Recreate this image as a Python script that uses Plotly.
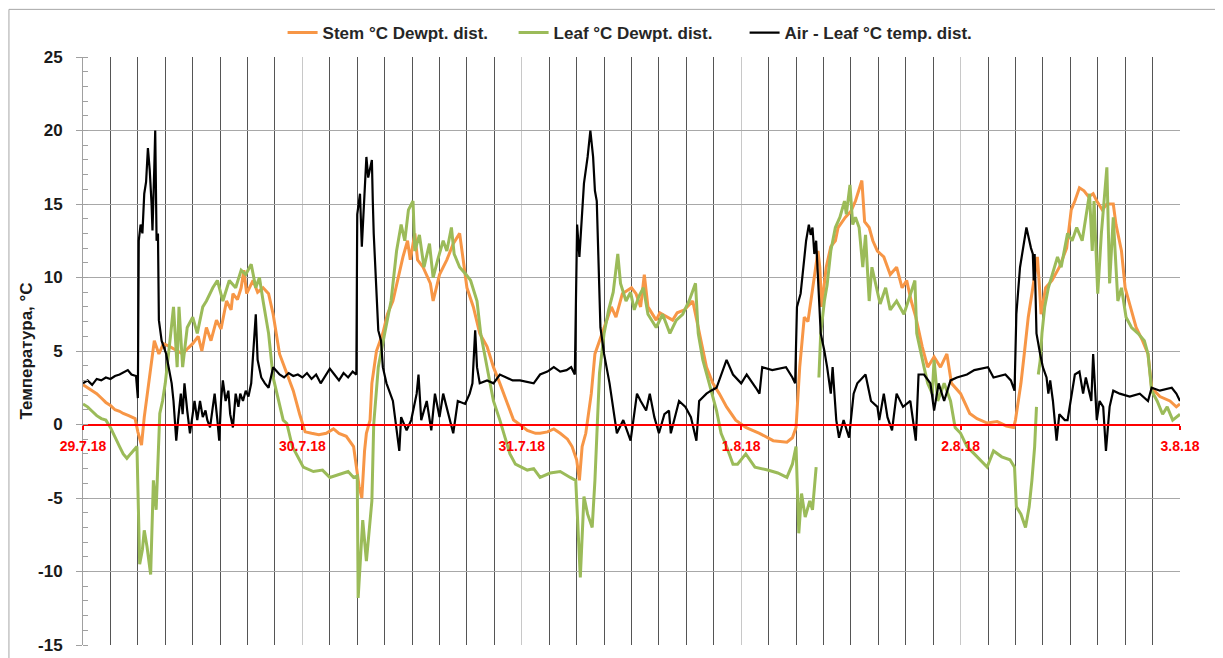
import pandas as pd
import plotly.graph_objects as go

# ── Data (hours since 29.7.18 00:00, values in °C) ─────────────────────────────
START = pd.Timestamp("2018-07-29 00:00")

stem_hours = [
    0, 0.5, 1, 1.5, 2, 2.5, 3, 3.5, 4, 4.4, 5, 5.7, 6, 6.4, 6.7, 7.1, 7.4, 7.8, 8.3, 8.8,
    9.5, 10.3, 10.9, 11.5, 12, 12.6, 13, 13.5, 14, 14.6, 15.1, 15.7, 16.2, 16.4, 16.9, 17.3,
    17.6, 17.9, 18.6, 19.1, 19.7, 20.3, 20.8, 21.5, 22.3, 23, 23.7, 24.3, 25, 25.8, 26.6,
    27.4, 28, 28.8, 29.6, 30, 30.2, 30.5, 30.8, 31, 31.4, 31.6, 32.1, 32.8, 33.3, 33.9, 34.4,
    35, 35.5, 35.8, 36.3, 36.6, 37.2, 38, 38.3, 39, 39.8, 40.5, 41.2, 41.6, 42, 42.7, 43.4,
    44.2, 44.9, 45.6, 46.3, 47.1, 48, 48.6, 49.5, 50, 50.8, 51.5, 52.2, 53, 53.5, 54, 54.3,
    54.6, 55, 55.3, 55.6, 56, 56.8, 57.8, 58.3, 59, 60, 60.5, 61, 61.4, 61.8, 62.7, 63.1,
    63.9, 64.5, 65, 65.8, 66.7, 67.4, 68.2, 68.9, 69.6, 70.4, 71.4, 72.5, 74, 75.5, 77,
    77.6, 78, 78.4, 78.9, 79.3, 79.9, 80.4, 80.6, 80.8, 81.3, 81.8, 82.3, 82.6, 83.4, 84,
    84.5, 85.2, 85.5, 86, 86.4, 86.9, 87.6, 88.3, 89, 89.6, 90.1, 90.6, 91.1, 91.8, 92.4,
    93.1, 93.8, 94.5, 95, 96, 97, 97.8, 98.9, 100, 101, 101.8, 102, 102.6, 103, 103.4,
    103.9, 104.4, 104.6, 104.8, 105.3, 106, 106.8, 107.6, 108.1, 108.5, 109, 109.5, 110,
    110.5, 110.9, 111.5, 112, 112.7, 113, 113.6, 114, 114.6, 115.2, 115.9, 116.5, 116.9,
    117.8, 118.9, 119.6, 120,
]
stem_vals = [
    2.7, 2.5, 2.3, 2.1, 1.8, 1.5, 1.3, 1.0, 0.9, 0.75, 0.6, 0.4, -0.5, -1.4, 0.5, 2.3, 4.0, 5.7, 4.8, 5.5,
    5.3, 5.0, 4.8, 5.2, 5.5, 6.0, 5.0, 6.6, 5.7, 7.1, 6.5, 8.4, 7.8, 8.9, 8.5, 9.3,
    10.5, 8.9, 9.8, 9.0, 9.3, 8.9, 7.5, 4.8, 3.4, 2.3, 0.7, -0.5, -0.6, -0.7, -0.6,
    -0.3, -0.6, -0.8, -1.5, -3.3, -4.2, -5.0, -1.8, -0.6, 0.3, 2.8, 5.0, 6.2, 7.5, 8.4, 9.8,
    11.4, 12.5, 11.2, 13.0, 11.2, 10.7, 9.6, 8.4, 10.2, 11.2, 12.3, 13.0, 11.2, 9.3, 8.0, 6.2,
    5.3, 3.9, 2.8, 1.6, 0.3, -0.1, -0.4, -0.6, -0.6, -0.5, -0.3, -0.6, -1.0, -1.5, -2.4, -3.8,
    -1.5, -0.6, 0.75, 2.1, 4.8, 6.2, 8.0, 7.3, 8.9, 9.3, 8.9, 8.0, 10.2, 8.0, 7.1, 7.6,
    7.3, 7.1, 7.6, 7.8, 8.4, 6.2, 3.9, 2.8, 2.1, 1.2, 0.3, -0.2, -0.6, -1.1, -1.2,
    -0.9, -0.2, 3.9, 7.3, 7.0, 9.5, 11.8, 10.7, 8.0, 10.7, 12.1, 12.5, 13.4, 14.1, 14.5,
    15.2, 16.6, 13.8, 13.4, 12.5, 11.8, 11.4, 10.2, 10.7, 9.3, 9.8, 8.4, 7.3, 5.3, 3.9,
    4.6, 3.9, 4.8, 2.8, 2.1, 0.75, 0.4, 0.1, 0.2, -0.1, -0.2, 0.3, 2.8, 5.0, 7.3,
    9.3, 11.4, 9.6, 7.5, 9.3, 9.8, 10.7, 12.0, 14.6, 15.2, 16.1, 15.9, 15.5,
    15.7, 15.2, 14.6, 15.0, 15.0, 13.6, 11.8, 9.3, 8.0, 6.6, 5.7, 4.8, 2.5,
    1.9, 1.6, 1.2, 1.4,
]

leaf_hours = [
    0, 0.5, 1, 1.5, 2, 2.5, 3, 3.5, 4, 4.4, 4.8, 5.2, 5.5, 5.9, 6.2, 6.5, 6.7, 7, 7.4, 7.7,
    8, 8.4, 8.7, 9, 9.6, 9.9, 10.3, 10.5, 10.9, 11.4, 12, 12.5, 13.1, 13.5, 14.2, 14.7, 15.3,
    16, 16.7, 17.3, 17.8, 18.4, 18.9, 19.3, 19.7, 20.3, 20.8, 21.4, 21.9, 22.3, 22.9, 24.1,
    25.2, 26.2, 27, 28, 29, 29.6, 30, 30.1, 30.6, 31, 31.6, 31.8, 32.3, 33, 33.7, 34.3, 34.8,
    35.2, 35.6, 36.1, 36.3, 36.8, 37.3, 37.9, 38.3, 38.8, 39.4, 39.8, 40.3, 40.6, 41.2, 41.9,
    42.4, 43.1, 43.5, 44.2, 44.9, 45.6, 46, 46.7, 47.3, 48.6, 49.3, 50, 51.1, 52.2, 53.3,
    53.9, 54.4, 54.8, 55.2, 55.7, 56, 56.3, 56.5, 57, 57.5, 58, 58.5, 58.8, 59.4, 59.9,
    60.3, 60.8, 61.3, 61.8, 62.7, 63.4, 64.2, 64.9, 65.6, 66.3, 67, 67.3, 67.8, 68.5, 69.3,
    69.8, 70.4, 71.1, 71.6, 72.5, 73.5, 74.9, 76, 77, 77.6, 78, 78.3, 78.6, 79, 79.5, 79.8,
    80.2, 80.35, 80.5, 80.7, 81.1, 81.4, 81.8, 82.3, 82.8, 83.3, 83.5, 83.9, 84.2, 84.5,
    84.9, 85.3, 85.6, 86, 86.3, 86.7, 87.2, 87.8, 88.3, 89, 89.8, 91, 91.2, 92, 92.4, 92.9,
    93.1, 93.5, 94.2, 94.9, 95.4, 96, 96.7, 97.5, 98.9, 99.6, 100.5, 101.4, 101.9, 102.1,
    102.6, 103.1, 103.5, 103.8, 104.1, 104.3, 104.4, 104.5, 104.7, 104.9, 105.2, 105.6,
    106, 106.6, 107, 107.7, 108.2, 108.7, 109.3, 110.1, 110.4, 110.6, 111, 111.4, 112,
    112.3, 112.7, 113.2, 113.6, 114.1, 114.7, 115.4, 116.1, 116.5, 116.9, 117.5, 118.1,
    118.6, 119.2, 120,
]
leaf_vals = [
    1.4, 1.2, 0.9, 0.6, 0.4, 0.3, -0.2, -0.8, -1.5, -2.0, -2.3, -2.0, -1.75, -1.5, -9.5, -8.5, -7.2, -8.3, -10.2, -3.8,
    -5.8, 0.75, 1.6, 2.8, 6.2, 8.0, 3.9, 8.0, 3.9, 6.6, 7.3, 6.2, 8.0, 8.4, 9.3, 9.8, 8.4,
    9.8, 9.3, 10.5, 10.2, 10.9, 9.3, 10.0, 8.4, 6.2, 3.2, 1.6, 0.3, 0.07, -1.5, -2.9,
    -3.2, -3.1, -3.6, -3.4, -3.2, -3.6, -3.5, -11.8, -6.5, -9.3, -5.2, 0.0, 3.9, 6.2, 8.4, 11.8, 13.6,
    12.5, 14.6, 15.2, 11.8, 12.9, 10.7, 12.3, 10.0, 11.2, 12.5, 11.8, 13.4, 11.6, 10.7, 10.2,
    9.8, 8.4, 6.2, 3.9, 1.6, 0.3, -0.6, -2.0, -2.7, -3.1, -3.0, -3.6, -3.3, -3.2, -3.6,
    -3.8, -10.4, -4.9, -6.1, -7.0, -3.8, 0.75, 3.5, 6.2, 7.8, 9.0, 11.6, 9.6, 8.4, 9.0,
    7.8, 8.7, 9.3, 7.5, 6.6, 7.5, 6.2, 7.1, 7.5, 8.4, 9.6, 6.2, 4.4, 2.8, 0.95,
    -0.6, -1.5, -2.7, -2.7, -2.0, -2.9, -3.1, -3.3, -3.6, -2.7, -1.5, -7.4, -4.7, -6.3, -5.2, -5.8,
    -2.9, None, 3.2, 6.2, 8.4, 9.5, 11.8, 13.4, 14.1, 15.2, 14.3, 16.3, 13.6, 14.1,
    13.4, 10.7, 12.9, 8.4, 10.7, 9.5, 8.2, 9.3, 7.8, 8.4, 7.5, 9.8, 6.2, 3.9, 2.8, 2.1,
    4.4, 1.6, 2.8, 1.6, -0.2, -0.6, -1.5, -2.0, -2.9, -1.8, -2.2, -2.4, -2.9, -5.6,
    -6.1, -7.0, -5.6, -3.8, -1.5, 1.2, None, 3.4, 4.3, 6.2, 8.0, 9.3,
    10.2, 11.4, 10.7, 13.0, 12.5, 13.4, 12.5, 15.7, 11.8, 15.2, 8.9, 13.0, 17.5,
    9.6, 14.1, 8.4, 9.3, 7.3, 6.6, 6.2, 5.7, 4.8, 2.3, 1.6, 0.7,
    1.2, 0.3, 0.7,
]

air_hours = [
    0, 0.5, 1, 1.5, 2, 2.5, 3, 3.5, 4, 4.5, 4.9, 5.3, 5.8, 6, 6.1, 6.3, 6.5, 6.7, 6.9, 7.1,
    7.3, 7.5, 7.6, 7.8, 7.9, 8.05, 8.2, 8.3, 8.6, 9.1, 9.4, 9.7, 9.9, 10.2, 10.4, 10.7, 10.9,
    11.1, 11.4, 11.7, 12, 12.2, 12.5, 12.8, 13.1, 13.4, 13.6, 13.9, 14.2, 14.4, 14.7, 14.9,
    15.1, 15.3, 15.6, 15.9, 16.1, 16.4, 16.7, 17, 17.2, 17.5, 17.8, 18.1, 18.4, 18.6, 18.9,
    19.1, 19.5, 19.9, 20.3, 20.8, 21.2, 21.5,
    22, 22.5, 23, 23.5, 24, 24.5, 25, 25.5, 26, 26.5, 27, 27.5, 28, 28.5, 29, 29.5, 29.9,
    30, 30.3, 30.5, 31, 31.2, 31.6, 31.7, 31.8, 32.3, 32.6, 32.8, 33.2, 33.9, 34.3, 34.6,
    34.8, 35.4, 35.9, 36.5, 36.7, 37, 37.6, 38.1, 38.5, 39, 39.4, 40.1, 40.5, 41, 41.8,
    42.3, 42.6, 42.9, 43.1, 43.4, 44.2, 44.9, 45.6, 46.3, 47, 47.8, 48.5, 49.3, 50, 50.8,
    51.5, 52.2, 52.9, 53.4, 53.8, 54.05, 54.3, 54.8, 55.2, 55.5, 55.8, 56, 56.2, 56.6, 57,
    57.6, 58.4, 59.1, 59.9, 60.6, 61, 61.6, 62, 62.5, 63, 63.6, 64.1, 64.3, 65.2, 65.9,
    66.5, 67.1, 67.4, 68.2, 68.7, 69.3, 70.4, 71.1, 72, 72.6, 73.6, 74, 74.3, 75.4, 76.9,
    77.6, 77.9, 78.1, 78.5, 78.8, 79.1, 79.4, 79.6, 79.8, 80, 80.2, 80.5, 80.7, 81.1, 81.4,
    81.8, 82, 82.4, 82.7, 83.2, 83.8, 84.3, 84.7, 85.6, 86.2, 86.9, 87.1, 87.6, 88, 88.5,
    89, 89.7, 90.5, 91.1, 91.4, 92, 92.7, 93.1, 93.6, 94.2, 94.9, 95.6, 96.7, 97.5, 99,
    99.6, 100.9, 101.5, 101.9, 102.1, 102.5, 103.2, 103.5, 103.7, 103.9, 104, 104.1, 104.3,
    104.7, 105, 105.4, 105.6, 105.8, 106.1, 106.5, 106.8, 107.4, 107.7, 108.5, 109, 109.4,
    109.7, 110.3, 110.5, 110.9, 111.2, 111.6, 111.9, 112.3, 112.7, 113.4, 114.5, 115.6,
    116.5, 116.9, 117.8, 119.1, 119.6, 120,
]
air_vals = [
    2.8, 3.0, 2.7, 3.1, 3.0, 3.2, 3.1, 3.3, 3.4, 3.6, 3.7, 3.4, 3.3, 1.8, 12.5, 13.6, 13.0, 15.7, 16.5, 18.8,
    17.3, 15.0, 13.2, 17.5, 20.0, 12.5, 13.0, 7.1, 5.7, 4.8, 3.9, 2.8, 1.6, -1.1, 0.3, 2.1, 0.7,
    2.8, 0.95, -0.6, 0.7, 1.6, 0.3, 1.6, 0.5, 0.95, 0.3, -0.2, 1.2, 2.1, 0.3, -1.1,
    1.6, 3.0, 1.6, 2.3, 0.7, -0.2, 2.1, 1.2, 2.1, 1.6, 2.3, 1.9, 2.8, 4.8, 7.5,
    4.4, 3.2, 2.8, 2.5, 3.9, 3.6, 3.4,
    3.2, 3.5, 3.3, 3.4, 3.2, 3.5, 3.1, 3.4, 2.8, 3.3, 3.8, 3.4, 3.0, 3.5, 3.2, 3.6, 3.4,
    14.3, 15.7, 12.1, 18.2, 16.8, 18.0, 15.2, 13.0, 6.4, 5.7, 3.9, 2.8, 1.6, -0.2, -1.8,
    0.5, -0.4, 0.3, 2.1, 3.4, 0.3, 1.6, -0.4, 2.1, 0.5, 2.1, 0.3, -0.6, 1.6, 1.4,
    2.1, 2.8, 6.4, 3.9, 2.8, 3.0, 2.8, 3.4, 3.2, 3.0, 3.0, 2.9, 2.8, 3.4, 3.6,
    3.9, 3.6, 3.7, 3.9, 3.4, 13.6, 11.4, 16.4, 18.2, 20.0, 18.2, 15.9, 15.2, 6.6, 4.8,
    2.8, -0.6, 0.3, -1.1, 2.1, 1.6, 0.95, 2.1, 0.5, -0.6, 0.7, 0.95, -0.6, 1.6, 1.2,
    0.5, -1.1, 1.6, 2.1, 2.3, 2.5, 4.4, 3.4, 2.8, 3.4, 2.5, 2.1, 3.9, 3.7, 3.9,
    3.2, 2.8, 8.0, 8.9, 10.9, 12.5, 13.6, 12.9, 13.4, 11.6, 12.5, 8.4, 6.2, 5.0, 3.9,
    2.1, 3.9, 0.3, -0.9, 0.3, -0.9, 2.1, 2.8, 3.4, 1.6, 1.2, 0.3, 2.1, 0.5, -0.4,
    2.1, 1.2, 1.6, -1.1, 3.4, 3.4, 2.8, 0.95, 2.8, 1.6, 3.0, 3.2, 3.4, 3.7, 3.9,
    3.2, 3.4, 3.0, 2.3, 7.5, 10.7, 13.4, 12.5, 12.0, 11.6, 9.8, 11.6, 6.2,
    4.8, 3.9, 3.2, 2.1, 3.0, 1.6, -1.1, 0.7, 0.3, 0.3, 3.4, 3.6, 2.1,
    3.2, 1.6, 4.8, 0.3, 1.6, 1.2, -1.8, 1.2, 2.3, 2.1, 1.9, 2.1,
    1.6, 2.5, 2.3, 2.5, 2.1, 1.6,
]

y_ticks      = [-15, -10, -5, 0, 5, 10, 15, 20, 25]
y_tick_text  = ["-15", "-10", "-5", "0", "5", "10", "15", "20", "25"]

SERIES = [
    ("Stem °C Dewpt. dist.", stem_hours, stem_vals, "#F79646", 3.0),
    ("Leaf °C Dewpt. dist.", leaf_hours, leaf_vals, "#9BBB59", 3.0),
    ("Air - Leaf °C temp. dist.", air_hours, air_vals, "#000000", 2.2),
]

FONT = "Liberation Sans, Arial, sans-serif"

# page body has an 8px margin, so the figure is a little smaller than the window
W, H = 1215, 650

fig = go.Figure()

for name, hrs, vals, color, width in SERIES:
    fig.add_trace(go.Scatter(
        x    = START + pd.to_timedelta(hrs, unit="h"),
        y    = vals,
        name = name,
        mode = "lines",
        line = dict(color=color, width=width),
        connectgaps = False,
    ))

fig.update_layout(
    width  = W,
    height = H,
    margin = dict(l=75, r=43, t=49, b=13),
    paper_bgcolor = "white",
    plot_bgcolor  = "white",
    font   = dict(family=FONT, color="#000000"),
    showlegend = True,
    legend = dict(
        orientation = "h",
        xref = "container", x = 0.226, xanchor = "left",
        yref = "container", y = 1 - 25 / H, yanchor = "middle",
        font = dict(size=17, color="#262626", family=FONT, weight="bold"),
        itemwidth = 30,
        entrywidth = 186, entrywidthmode = "pixels",
    ),
    shapes = [dict(
        type="rect", xref="paper", yref="paper",
        x0=-0.0675, x1=1.046, y0=-0.045, y1=1.081,
        line=dict(color="#a6a6a6", width=1), layer="below",
    )],
)

fig.update_xaxes(
    type = "date",
    range = [START, START + pd.Timedelta(days=5)],
    anchor = "free", position = 0.375,
    automargin = False,
    showline = True, linecolor = "#FF0000", linewidth = 2,
    ticks = "outside", ticklen = 4, tickcolor = "#FF0000", tickwidth = 2,
    ticklabelstandoff = 5,
    dtick = 86400000, tickformat = "%-d.%-m.%y",
    tickfont = dict(size=14, color="#FF0000", family=FONT, weight="bold"),
    showgrid = True, gridcolor = "#c8c8c8", gridwidth = 1.3,
    minor = dict(dtick=10800000, showgrid=True, gridcolor="#555555", gridwidth=1.4),
    zeroline = False,
)

fig.update_yaxes(
    range = [-15, 25],
    tickvals = y_ticks, ticktext = y_tick_text,
    automargin = False,
    showgrid = True, gridcolor = "#a8a8a8", gridwidth = 1.3,
    zeroline = False,
    showline = True, linecolor = "#a0a0a0", linewidth = 1,
    ticks = "outside", ticklen = 6, tickcolor = "#a0a0a0",
    ticklabelstandoff = 10,
    minor = dict(ticks="inside", ticklen=5, dtick=1, tickcolor="#a0a0a0", showgrid=False),
    tickfont = dict(size=17, color="#1a1a1a", family=FONT, weight="bold"),
    title = dict(text="Температура, °С", standoff=1,
                 font=dict(size=17, color="#1a1a1a", family=FONT, weight="bold")),
)

fig.write_html("out.html")
